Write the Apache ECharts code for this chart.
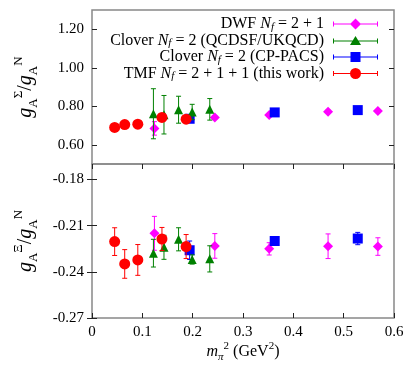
<!DOCTYPE html>
<html><head><meta charset="utf-8">
<script src="https://cdn.jsdelivr.net/npm/echarts@6/dist/echarts.min.js"></script>
<style>html,body{margin:0;padding:0;background:#fff}#c{width:415px;height:371px}</style>
</head><body><div id="c"></div>
<script>
// ---- data ----
const seriesNames = ['DWF Nf=2+1', 'Clover Nf=2 (QCDSF/UKQCD)', 'Clover Nf=2 (CP-PACS)', 'TMF Nf=2+1+1 (this work)'];
const legendLabels = [
  '{n|DWF }{i|N}{s|f}{n| = 2 + 1}',
  '{n|Clover }{i|N}{s|f}{n| = 2 (QCDSF/UKQCD)}',
  '{n|Clover }{i|N}{s|f}{n| = 2 (CP-PACS)}',
  '{n|TMF }{i|N}{s|f}{n| = 2 + 1 + 1 (this work)}'
];
// DWF Nf=2+1
const xDWF = [0.124, 0.244, 0.352, 0.469, 0.568];
const sigDWF = [0.685, 0.742, 0.754, 0.772, 0.775];
const sigDWFErr = [0.035, 0.008, 0.008, 0.008, 0.008];
const xiDWF = [-0.2150, -0.2232, -0.2251, -0.2234, -0.2236];
const xiDWFErr = [0.011, 0.008, 0.004, 0.008, 0.0057];
// Clover Nf=2 QCDSF/UKQCD
const xQCD = [0.122, 0.143, 0.172, 0.199, 0.234];
const sigQCD = [0.761, 0.756, 0.782, 0.770, 0.784];
const sigQCDErr = [0.13, 0.10, 0.07, 0.04, 0.056];
const xiQCD = [-0.2279, -0.2241, -0.2189, -0.2320, -0.2316];
const xiQCDErr = [0.009, 0.0078, 0.0075, 0.003, 0.0085];
// Clover Nf=2 CP-PACS
const xCP = [0.194, 0.363, 0.528];
const sigCP = [0.735, 0.768, 0.780];
const sigCPErr = [0.008, 0.008, 0.008];
const xiCP = [-0.2260, -0.2200, -0.2184];
const xiCPErr = [0.006, 0.002, 0.004];
// TMF Nf=2+1+1
const xTMF = [0.045, 0.065, 0.091, 0.139, 0.187];
const sigTMF = [0.690, 0.705, 0.707, 0.742, 0.733];
const sigTMFErr = [0.008, 0.008, 0.008, 0.008, 0.008];
const xiTMF = [-0.2204, -0.2349, -0.2323, -0.2187, -0.2236];
const xiTMFErr = [0.009, 0.0093, 0.010, 0.0075, 0.0078];
// ticks
const xTicks = [0, 0.1, 0.2, 0.3, 0.4, 0.5, 0.6];
const sigTicks = [0.6, 0.8, 1.0, 1.2];
const xiTicks = [-0.27, -0.24, -0.21, -0.18];

// ---- styling ----
const FONT = '"Liberation Serif","DejaVu Serif",serif';
const colors = ['#ff00ff', '#008000', '#0000ff', '#ff0000'];
const symbols = ['diamond', 'triangle', 'rect', 'circle'];
const sizes = [10, 9, 10, 11];
const zOrder = [2, 4, 3, 5];
const base = 'M0 6.5H45V7.5H0Z M0 4.5H1V9.5H0Z M44 4.5H45V9.5H44Z ';
const icons = [
  'path://' + base + 'M22.5 1.5L28 7L22.5 12.5L17 7Z',
  'path://' + base + 'M22.5 2L28 11L17 11Z',
  'path://' + base + 'M17.5 2H27.5V12H17.5Z',
  'path://' + base + 'M22.5 1.5A5.5 5.5 0 1 1 22.5 12.5A5.5 5.5 0 1 1 22.5 1.5Z'
];

function zip(xs, ys, es) { return xs.map((x, i) => [x, ys[i], es[i]]); }
const topSets = [zip(xDWF, sigDWF, sigDWFErr), zip(xQCD, sigQCD, sigQCDErr), zip(xCP, sigCP, sigCPErr), zip(xTMF, sigTMF, sigTMFErr)];
const botSets = [zip(xDWF, xiDWF, xiDWFErr), zip(xQCD, xiQCD, xiQCDErr), zip(xCP, xiCP, xiCPErr), zip(xTMF, xiTMF, xiTMFErr)];

function errRender(params, api) {
  const x = api.value(0), y = api.value(1), e = api.value(2);
  const lo = api.coord([x, y - e]), hi = api.coord([x, y + e]);
  const c = 2.5;
  const style = { stroke: api.visual('color'), lineWidth: 1 };
  return { type: 'group', children: [
    { type: 'line', shape: { x1: lo[0], y1: lo[1], x2: hi[0], y2: hi[1] }, style: style },
    { type: 'line', shape: { x1: lo[0] - c, y1: lo[1], x2: lo[0] + c, y2: lo[1] }, style: style },
    { type: 'line', shape: { x1: hi[0] - c, y1: hi[1], x2: hi[0] + c, y2: hi[1] }, style: style }
  ]};
}

const series = [];
[topSets, botSets].forEach((sets, panel) => {
  sets.forEach((data, k) => {
    series.push({
      type: 'custom', xAxisIndex: panel, yAxisIndex: panel * 2, data: data,
      renderItem: errRender, itemStyle: { color: colors[k] }, z: zOrder[k], silent: true,
      encode: { x: 0, y: 1 }
    });
    series.push({
      type: 'scatter', name: seriesNames[k], xAxisIndex: panel, yAxisIndex: panel * 2,
      data: data.map(d => [d[0], d[1]]), symbol: symbols[k], symbolSize: sizes[k],
      itemStyle: { color: colors[k], opacity: 1 }, z: zOrder[k] + 0.5, silent: true
    });
  });
});

const tickStyle = { show: true, inside: true, length: 5, lineStyle: { color: '#222', width: 1 } };
const labelStyle = { fontFamily: FONT, fontSize: 15, color: '#000' };
const nameRich = {
  i: { fontFamily: FONT, fontStyle: 'italic', fontSize: 20, color: '#000', lineHeight: 28 },
  n: { fontFamily: FONT, fontSize: 20, color: '#000', lineHeight: 28 },
  sub: { fontFamily: FONT, fontSize: 13, color: '#000', verticalAlign: 'bottom', lineHeight: 28 },
  sup: { fontFamily: FONT, fontSize: 13, color: '#000', verticalAlign: 'top', lineHeight: 28 },
  ssub: { fontFamily: FONT, fontSize: 11, fontStyle: 'italic', color: '#000', verticalAlign: 'bottom', lineHeight: 22 },
  ssup: { fontFamily: FONT, fontSize: 11, color: '#000', verticalAlign: 'top', lineHeight: 22 },
  xi: { fontFamily: FONT, fontStyle: 'italic', fontSize: 16, color: '#000', lineHeight: 22 },
  xn: { fontFamily: FONT, fontSize: 16, color: '#000', lineHeight: 22 }
};

function yAxis(grid, min, max, ticks, left, name) {
  return {
    type: 'value', gridIndex: grid, min: min, max: max, position: left ? 'left' : 'right',
    axisLine: { show: false }, splitLine: { show: false },
    axisTick: Object.assign({ customValues: ticks }, tickStyle),
    axisLabel: left ? Object.assign({ customValues: ticks, margin: 8, formatter: v => v.toFixed(2) }, labelStyle) : { show: false },
    name: name || '', nameLocation: 'middle', nameGap: 52, nameRotate: 90,
    nameTextStyle: { rich: nameRich }
  };
}

const option = {
  animation: false,
  backgroundColor: '#fff',
  grid: [
    { left: 92, right: 21, top: 10, height: 154, show: true, borderColor: '#888', borderWidth: 1.5, backgroundColor: 'transparent' },
    { left: 92, right: 21, top: 164, height: 154, show: true, borderColor: '#888', borderWidth: 1.5, backgroundColor: 'transparent' }
  ],
  xAxis: [
    { type: 'value', gridIndex: 0, min: 0, max: 0.6, axisLine: { show: false }, axisTick: { show: false }, axisLabel: { show: false }, splitLine: { show: false } },
    { type: 'value', gridIndex: 1, min: 0, max: 0.6, position: 'bottom', axisLine: { show: false }, splitLine: { show: false },
      axisTick: Object.assign({ customValues: xTicks }, tickStyle),
      axisLabel: Object.assign({ customValues: xTicks, margin: 7, formatter: v => (v === 0 ? '0' : v.toFixed(1)) }, labelStyle),
      name: '{xi|m}{ssub|π}{ssup|2}{xn| (GeV}{ssup|2}{xn|)}', nameLocation: 'middle', nameGap: 23,
      nameTextStyle: { rich: nameRich } },
    { type: 'value', gridIndex: 1, min: 0, max: 0.6, position: 'top', axisLine: { show: false }, splitLine: { show: false },
      axisTick: Object.assign({ customValues: xTicks }, tickStyle), axisLabel: { show: false } }
  ],
  yAxis: [
    yAxis(0, 0.5, 1.3, sigTicks, true, '{i|g}{sub|A}{sup|Σ}{n|/}{i|g}{sub|A}{sup|N}'),
    yAxis(0, 0.5, 1.3, sigTicks, false),
    yAxis(1, -0.27, -0.17, xiTicks, true, '{i|g}{sub|A}{sup|Ξ}{n|/}{i|g}{sub|A}{sup|N}'),
    yAxis(1, -0.27, -0.17, xiTicks, false)
  ],
  legend: {
    data: seriesNames.map((n, k) => ({ name: n, icon: icons[k] })),
    orient: 'vertical', align: 'right', right: 37, top: 16, padding: 0, itemGap: 0,
    itemWidth: 45, itemHeight: 14, selectedMode: false,
    formatter: name => legendLabels[seriesNames.indexOf(name)],
    textStyle: {
      padding: [0, 4, 0, 0],
      rich: {
        n: { fontFamily: FONT, fontSize: 16, color: '#000', lineHeight: 17 },
        i: { fontFamily: FONT, fontSize: 16, fontStyle: 'italic', color: '#000', lineHeight: 17 },
        s: { fontFamily: FONT, fontSize: 11, fontStyle: 'italic', color: '#000', lineHeight: 17, verticalAlign: 'bottom' }
      }
    }
  },
  series: series
};
echarts.init(document.getElementById('c'), null, { renderer: 'canvas' }).setOption(option);
</script></body></html>
